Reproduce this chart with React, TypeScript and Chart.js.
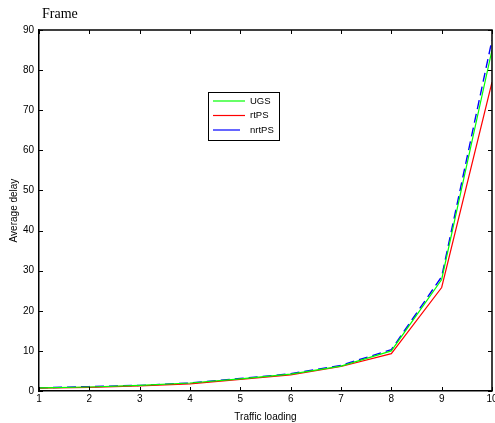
import React, { useEffect, useRef } from "react";
import { Chart, registerables } from "chart.js";

Chart.register(...registerables);

// Traffic loading levels and average delay for each service class
const loads = [1, 2, 3, 4, 5, 6, 7, 8, 9, 10];
const ugsDelay = [0.8, 1.0, 1.4, 2.0, 3.0, 4.2, 6.2, 10.0, 27.8, 85.0];
const rtpsDelay = [0.7, 0.9, 1.3, 1.8, 2.9, 4.0, 6.1, 9.3, 25.8, 77.0];
const nrtpsDelay = [0.8, 1.1, 1.4, 2.0, 3.1, 4.3, 6.4, 10.3, 28.5, 87.5];

const titleText = "Frame";
const xTitle = "Traffic loading";
const yTitle = "Average delay";

const SANS = "'Liberation Sans', Arial, sans-serif";
const SERIF = "'Liberation Serif', 'Times New Roman', serif";

const toPoints = (ys: number[]) => loads.map((x, i) => ({ x, y: ys[i] }));

// Box frame, inward tick marks, legend box and title, MATLAB style
const framePlugin = {
  id: "frame",
  afterDraw(chart: any) {
    const { ctx, chartArea } = chart;
    const { left, top, right, bottom } = chartArea;
    const xs = chart.scales.x;
    const ys = chart.scales.y;
    ctx.save();
    ctx.strokeStyle = "#000";
    ctx.lineWidth = 1.5;
    ctx.beginPath();
    ctx.moveTo(left, top);
    ctx.lineTo(right, top);
    ctx.lineTo(right, bottom);
    ctx.stroke();

    ctx.lineWidth = 1;
    const tl = 4;
    ctx.beginPath();
    xs.ticks.forEach((t: any) => {
      const px = Math.round(xs.getPixelForValue(t.value)) + 0.5;
      ctx.moveTo(px, bottom);
      ctx.lineTo(px, bottom - tl);
      ctx.moveTo(px, top);
      ctx.lineTo(px, top + tl);
    });
    ys.ticks.forEach((t: any) => {
      const py = Math.round(ys.getPixelForValue(t.value)) + 0.5;
      ctx.moveTo(left, py);
      ctx.lineTo(left + tl, py);
      ctx.moveTo(right, py);
      ctx.lineTo(right - tl, py);
    });
    ctx.stroke();

    // title
    ctx.fillStyle = "#000";
    ctx.font = `14px ${SERIF}`;
    ctx.textAlign = "left";
    ctx.textBaseline = "alphabetic";
    ctx.fillText(titleText, left + 3, 18);

    // legend
    const bx = 208, by = 92, bw = 71, bh = 48;
    ctx.fillStyle = "#fff";
    ctx.fillRect(bx, by, bw, bh);
    ctx.strokeStyle = "#000";
    ctx.lineWidth = 1;
    ctx.strokeRect(bx + 0.5, by + 0.5, bw, bh);
    ctx.font = `9.5px ${SANS}`;
    ctx.textBaseline = "middle";
    chart.data.datasets.forEach((ds: any, i: number) => {
      const cy = by + 9 + i * 14.5;
      ctx.strokeStyle = ds.borderColor;
      ctx.lineWidth = 1.2;
      ctx.setLineDash([]);
      ctx.beginPath();
      ctx.moveTo(bx + 5, cy);
      ctx.lineTo(bx + (i === 2 ? 32 : 37), cy);
      ctx.stroke();
      ctx.fillStyle = "#000";
      ctx.fillText(ds.label, bx + 42, cy);
    });
    ctx.restore();
  },
};

export default function App() {
  const canvasRef = useRef<HTMLCanvasElement | null>(null);

  useEffect(() => {
    const canvas = canvasRef.current;
    if (!canvas) return;
    const chart = new Chart(canvas, {
      type: "line",
      data: {
        datasets: [
          {
            label: "UGS",
            data: toPoints(ugsDelay),
            borderColor: "#00ff00",
            borderWidth: 1.2,
            pointRadius: 0,
            tension: 0,
          },
          {
            label: "rtPS",
            data: toPoints(rtpsDelay),
            borderColor: "#ff0000",
            borderWidth: 1.2,
            pointRadius: 0,
            tension: 0,
          },
          {
            label: "nrtPS",
            data: toPoints(nrtpsDelay),
            borderColor: "#0000ff",
            borderWidth: 1.4,
            borderDash: [9, 5],
            pointRadius: 0,
            tension: 0,
          },
        ],
      },
      options: {
        responsive: false,
        animation: false,
        layout: { padding: { top: 30, right: 3, left: 0, bottom: 0 } },
        plugins: {
          legend: { display: false },
          tooltip: { enabled: false },
          title: { display: false },
        },
        scales: {
          x: {
            type: "linear",
            min: 1,
            max: 10,
            ticks: {
              stepSize: 1,
              color: "#000",
              font: { family: SANS, size: 10 },
              padding: 2,
              maxRotation: 0,
            },
            grid: { display: false, drawTicks: false },
            border: { display: true, color: "#000", width: 1.5 },
            title: {
              display: true,
              text: xTitle,
              color: "#000",
              font: { family: SANS, size: 10 },
              padding: { top: 0, bottom: 0 },
            },
            afterFit: (scale: any) => {
              scale.height = 32;
              scale.paddingRight = 0;
              scale.paddingLeft = 0;
            },
          },
          y: {
            type: "linear",
            min: 0,
            max: 90,
            ticks: {
              stepSize: 10,
              color: "#000",
              font: { family: SANS, size: 10 },
              padding: 5,
            },
            grid: { display: false, drawTicks: false },
            border: { display: true, color: "#000", width: 1.5 },
            title: {
              display: true,
              text: yTitle,
              color: "#000",
              font: { family: SANS, size: 10 },
              padding: { top: 8, bottom: 0 },
            },
            afterFit: (scale: any) => {
              scale.width = 39;
            },
          },
        },
      },
      plugins: [framePlugin],
    });
    return () => chart.destroy();
  }, []);

  return (
    <div style={{ position: "fixed", left: 0, top: 0, width: 495, height: 423, background: "#fff" }}>
      <canvas ref={canvasRef} width={495} height={423} />
    </div>
  );
}
